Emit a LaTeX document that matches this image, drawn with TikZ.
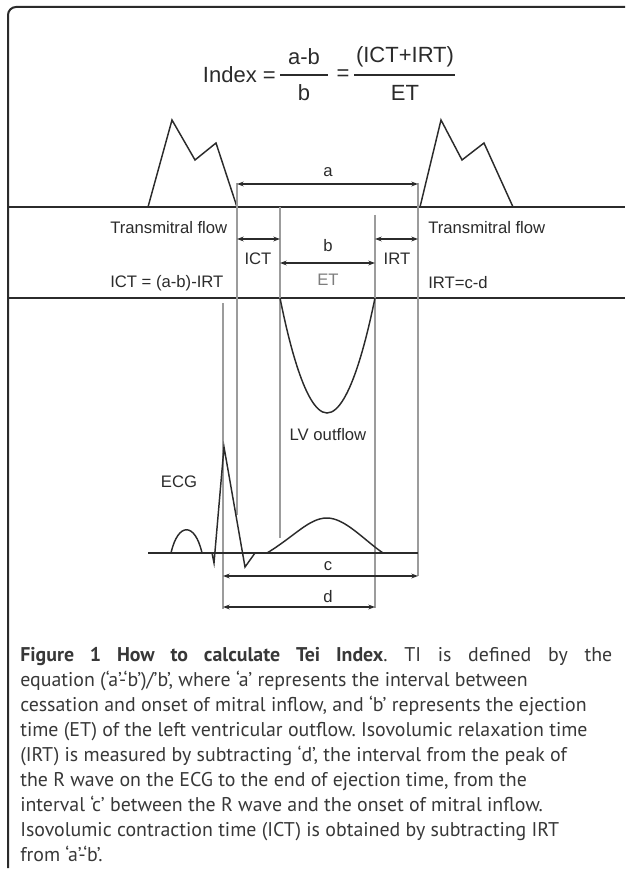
\documentclass[tikz,border=0pt]{standalone}
\usepackage{fontspec}
\setmainfont{Liberation Sans}
\newfontfamily\capfont{PT Sans}
\usetikzlibrary{arrows.meta}
\definecolor{ink}{HTML}{2B2B2B}
\definecolor{guide}{HTML}{9C9C9C}
\definecolor{captxt}{HTML}{383838}
\frenchspacing
\tikzset{
  trace/.style={draw=ink, line width=1.1pt},
  guideline/.style={draw=guide, line width=0.9pt},
  span/.style={draw=ink, line width=0.8pt, {Stealth[length=5pt,width=3.6pt]}-{Stealth[length=5pt,width=3.6pt]}},
  lbl/.style={font=\fontsize{12.5}{14}\selectfont, text=ink, inner sep=0pt},
  eqn/.style={font=\fontsize{16.5}{18}\selectfont, text=ink, inner sep=0pt},
  capline/.style={font=\capfont\fontsize{14.9}{16}\selectfont, text=captxt, anchor=base west, inner sep=0pt}
}
\begin{document}
\begin{tikzpicture}[x=0.75pt, y=-0.75pt]
\useasboundingbox (0,0) rectangle (625,873);
% frame
\draw[ink, line width=1.5pt, rounded corners=6pt] (625,7) -- (8,7) -- (8,868);
% formula
\node[eqn, anchor=east] (idx) at (276,75) {Index =};
\node[eqn] (numA) at (304,57) {a-b};
\node[eqn] (denA) at (304,93) {b};
\draw[ink, line width=0.9pt] (280,75) -- (328,75);
\node[eqn] (eqB) at (343,75) {=};
\node[eqn] (numB) at (405,57) {(ICT+IRT)};
\node[eqn] (denB) at (405,93) {ET};
\draw[ink, line width=0.9pt] (354,75) -- (455,75);
% transmitral flow
\draw[trace] (148,207) -- (172,120) -- (195,160) -- (216,143) -- (237,207);
\draw[trace] (420,207) -- (441,120) -- (462,160) -- (484,143) -- (513,207);
\draw[trace] (8,207) -- (625,207);
\draw[trace] (8,298) -- (625,298);
% guide lines
\draw[guideline] (237,183) -- (237,515);
\draw[guideline] (280,207) -- (280,538);
\draw[guideline] (375,215) -- (375,608);
\draw[guideline] (418,183) -- (418,576);
\draw[guideline] (223,303) -- (223,609);
% LV outflow
\draw[trace] (280,298) parabola bend (327,413) (375,298);
% ECG
\draw[trace] (148,553) -- (418,553);
\draw[trace] (171,553) .. controls (178,522) and (195,522) .. (202,553);
\draw[trace] (212,553) -- (214,563) -- (224,447) -- (245,567) -- (255,553);
\draw[trace] (267,553) .. controls (295,536) and (309,518) .. (327,518)
  .. controls (345,518) and (364,540) .. (383,553);
% interval ends
\coordinate (aL) at (237,184);  \coordinate (aR) at (418,184);
\coordinate (ictL) at (237,239); \coordinate (ictR) at (280,239);
\coordinate (bL) at (280,263);  \coordinate (bR) at (375,263);
\coordinate (irtL) at (375,239); \coordinate (irtR) at (418,239);
\coordinate (cL) at (223,576);  \coordinate (cR) at (418,576);
\coordinate (dL) at (223,607);  \coordinate (dR) at (375,607);
\draw[span] (aL) -- (aR);
\draw[span] (ictL) -- (ictR);
\draw[span] (bL) -- (bR);
\draw[span] (irtL) -- (irtR);
\draw[span] (cL) -- (cR);
\draw[span] (dL) -- (dR);
% labels
\node[lbl] (a) at (328,172) {a};
\node[lbl] (b) at (328,246) {b};
\node[lbl] (ict) at (258,259) {ICT};
\node[lbl] (irt) at (397,259) {IRT};
\node[lbl, text=guide!80!black] (et) at (328,280) {ET};
\node[lbl, anchor=west] (tmL) at (110,228) {Transmitral flow};
\node[lbl, anchor=west] (tmR) at (428,228) {Transmitral flow};
\node[lbl, anchor=west] (ictEq) at (110,283) {ICT = (a-b)-IRT};
\node[lbl, anchor=west] (irtEq) at (428,283) {IRT=c-d};
\node[lbl] (lv) at (328,435) {LV outflow};
\node[lbl] (ecg) at (179,482) {ECG};
\node[lbl] (c) at (328,566) {c};
\node[lbl] (d) at (328,597) {d};
% caption
\node[capline] (cap1) at (20,661) {\makebox[444pt][s]{\textbf{Figure 1 How to calculate Tei Index}. TI is defined by the}};
\node[capline] (cap2) at (20,686) {equation (‘a’-‘b’)/’b’, where ‘a’ represents the interval between};
\node[capline] (cap3) at (20,711) {cessation and onset of mitral inflow, and ‘b’ represents the ejection};
\node[capline] (cap4) at (20,736) {time (ET) of the left ventricular outflow. Isovolumic relaxation time};
\node[capline] (cap5) at (20,761) {(IRT) is measured by subtracting ‘d’, the interval from the peak of};
\node[capline] (cap6) at (20,786) {the R wave on the ECG to the end of ejection time, from the};
\node[capline] (cap7) at (20,811) {interval ‘c’ between the R wave and the onset of mitral inflow.};
\node[capline] (cap8) at (20,836) {Isovolumic contraction time (ICT) is obtained by subtracting IRT};
\node[capline] (cap9) at (20,861) {from ‘a’-‘b’.};
\end{tikzpicture}
\end{document}
